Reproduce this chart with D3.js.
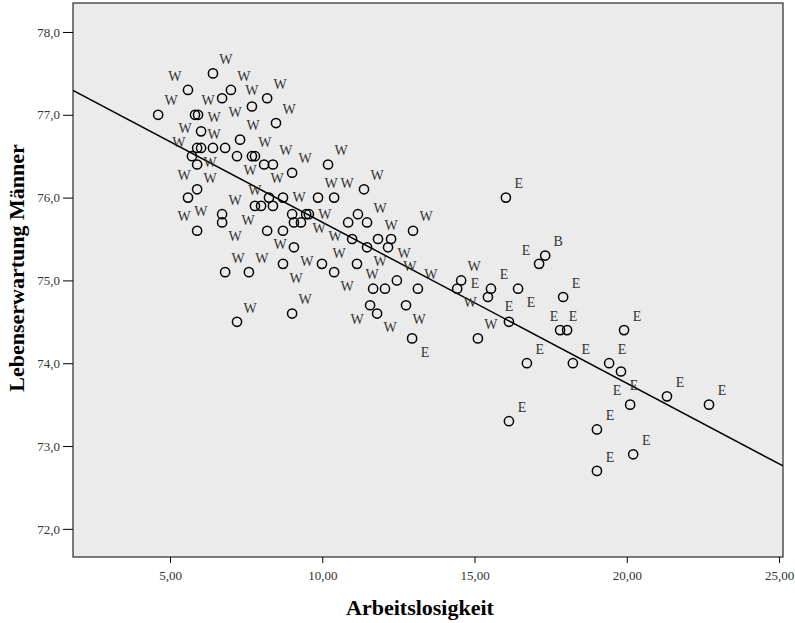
<!DOCTYPE html>
<html>
<head>
<meta charset="utf-8">
<script src="https://cdn.jsdelivr.net/npm/d3@7"></script>
<style>
  body { margin: 0; background: #fff; }
  text { font-family: "Liberation Serif", "Times New Roman", serif; }
</style>
</head>
<body>
<div id="chart"></div>
<script>
// waarden
const arbeitslosigkeit = [
  4.61, 5.59, 6.41, 7.00, 6.71, 7.69, 8.19, 5.82, 5.92, 6.02,
  7.30, 5.89, 6.02, 6.41, 6.81, 5.72, 7.20, 7.69, 7.79, 5.89,
  8.09, 5.89, 5.59, 6.71, 6.71, 5.89, 7.79, 7.99, 8.25, 8.19,
  6.81, 7.59, 7.20, 8.48, 8.38, 9.01, 10.19, 11.37, 8.71, 8.38,
  9.86, 10.39, 9.01, 9.47, 9.56, 9.07, 9.30, 11.17, 10.85, 11.47,
  8.71, 10.98, 11.47, 9.07, 11.83, 8.71, 9.99, 10.39, 11.14, 9.01,
  11.67, 11.57, 11.80, 12.98, 12.26, 12.16, 12.45, 14.56, 12.06, 13.14,
  14.43, 12.75, 12.95, 15.11, 15.44, 16.03, 17.32, 17.12, 15.54, 16.43,
  17.91, 16.13, 17.81, 18.04, 16.72, 18.23, 19.91, 19.42, 19.81, 20.11,
  21.32, 19.02, 20.21, 19.02, 22.70, 16.13
];
const lebenserwartung = [
  77.0, 77.3, 77.5, 77.3, 77.2, 77.1, 77.2, 77.0, 77.0, 76.8,
  76.7, 76.6, 76.6, 76.6, 76.6, 76.5, 76.5, 76.5, 76.5, 76.4,
  76.4, 76.1, 76.0, 75.8, 75.7, 75.6, 75.9, 75.9, 76.0, 75.6,
  75.1, 75.1, 74.5, 76.9, 76.4, 76.3, 76.4, 76.1, 76.0, 75.9,
  76.0, 76.0, 75.8, 75.8, 75.8, 75.7, 75.7, 75.8, 75.7, 75.7,
  75.6, 75.5, 75.4, 75.4, 75.5, 75.2, 75.2, 75.1, 75.2, 74.6,
  74.9, 74.7, 74.6, 75.6, 75.5, 75.4, 75.0, 75.0, 74.9, 74.9,
  74.9, 74.7, 74.3, 74.3, 74.8, 76.0, 75.3, 75.2, 74.9, 74.9,
  74.8, 74.5, 74.4, 74.4, 74.0, 74.0, 74.4, 74.0, 73.9, 73.5,
  73.6, 73.2, 72.9, 72.7, 73.5, 73.3
];
const region = [
  "W", "W", "W", "W", "W", "W", "W", "W", "W", "W",
  "W", "W", "W", "W", "W", "W", "W", "W", "W", "W",
  "W", "W", "W", "W", "W", "W", "W", "W", "W", "W",
  "W", "W", "W", "W", "W", "W", "W", "W", "W", "W",
  "W", "W", "W", "W", "W", "W", "W", "W", "W", "W",
  "W", "W", "W", "W", "W", "W", "W", "W", "W", "W",
  "W", "W", "W", "W", "W", "W", "W", "W", "W", "W",
  "W", "W", "E", "W", "E", "E", "B", "E", "E", "E",
  "E", "E", "E", "E", "E", "E", "E", "E", "E", "E",
  "E", "E", "E", "E", "E", "E"
];
const xTicks = [5, 10, 15, 20, 25];
const yTicks = [72, 73, 74, 75, 76, 77, 78];
const xTitel = "Arbeitslosigkeit";
const yTitel = "Lebenserwartung Männer";

const width = 795;
const height = 623;
const margin = {top: 3, right: 12, bottom: 66, left: 73};
const w = width - margin.left - margin.right;
const h = height - margin.top - margin.bottom;

// komma als decimaalteken
const locale = d3.formatLocale({decimal: ",", thousands: ".", grouping: [3], currency: ["", " €"]});

const data = arbeitslosigkeit.map(function(d, i) {
  return {x: d, y: lebenserwartung[i], label: region[i]};
});

const svg = d3.select("#chart")
  .append("svg")
    .attr("width", width)
    .attr("height", height);

const g = svg.append("g")
    .attr("transform", "translate(" + margin.left + "," + margin.top + ")");

const xScale = d3.scaleLinear()
    .domain([1.814, 25.13])
    .range([0, w]);

const yScale = d3.scaleLinear()
    .domain([71.66, 78.35])
    .range([h, 0]);

g.append("defs").append("clipPath")
    .attr("id", "clip")
  .append("rect")
    .attr("width", w)
    .attr("height", h);

// achtergrond van het plotvlak
g.append("rect")
    .attr("width", w)
    .attr("height", h)
    .attr("fill", "#ebebeb");

// assen
const xAxis = g.append("g")
    .attr("transform", "translate(0," + h + ")")
    .call(d3.axisBottom(xScale)
      .tickValues(xTicks)
      .tickSize(6)
      .tickSizeOuter(0)
      .tickFormat(locale.format(".2f")));

const yAxis = g.append("g")
    .call(d3.axisLeft(yScale)
      .tickValues(yTicks)
      .tickSize(10)
      .tickSizeOuter(0)
      .tickFormat(locale.format(".1f")));

[xAxis, yAxis].forEach(function(ax) {
  ax.select(".domain").remove();
  ax.selectAll("line").attr("stroke", "#000");
  ax.selectAll("text")
    .attr("fill", "#333")
    .style("font-size", "13px")
    .style("font-family", "'Liberation Serif', serif");
});
xAxis.selectAll("text").attr("dy", "1.1em");
yAxis.selectAll("text").attr("x", -13);

// regressielijn (kleinste kwadraten)
const mx = d3.mean(data, function(d) { return d.x; });
const my = d3.mean(data, function(d) { return d.y; });
const sxy = d3.sum(data, function(d) { return (d.x - mx) * (d.y - my); });
const sxx = d3.sum(data, function(d) { return (d.x - mx) * (d.x - mx); });
const slope = sxy / sxx;
const intercept = my - slope * mx;
const xd = xScale.domain();

g.append("line")
    .attr("clip-path", "url(#clip)")
    .attr("x1", xScale(xd[0]))
    .attr("y1", yScale(intercept + slope * xd[0]))
    .attr("x2", xScale(xd[1]))
    .attr("y2", yScale(intercept + slope * xd[1]))
    .attr("stroke", "#000")
    .attr("stroke-width", 1.5);

// punten
g.append("g")
  .selectAll("circle")
    .data(data)
    .enter()
    .append("circle")
    .attr("cx", function(d) { return xScale(d.x); })
    .attr("cy", function(d) { return yScale(d.y); })
    .attr("r", 4.6)
    .attr("fill", "none")
    .attr("stroke", "#000")
    .attr("stroke-width", 1.5);

// labels plaatsen: eerst rechtsboven, anders een vrije plek zoeken
const kandidaten = [[13, -14], [-13, -14], [0, -16], [13, 14], [-13, 14], [16, 0], [-16, 0]];
const geplaatst = [];
const punten = data.map(function(d) { return [xScale(d.x), yScale(d.y)]; });

function overlapt(b) {
  for (let i = 0; i < geplaatst.length; i++) {
    const o = geplaatst[i];
    if (b.x0 < o.x1 && b.x1 > o.x0 && b.y0 < o.y1 && b.y1 > o.y0) return true;
  }
  for (let i = 0; i < punten.length; i++) {
    const p = punten[i];
    if (p[0] + 4.5 > b.x0 && p[0] - 4.5 < b.x1 && p[1] + 4.5 > b.y0 && p[1] - 4.5 < b.y1) return true;
  }
  return false;
}

data.forEach(function(d, i) {
  const px = punten[i][0], py = punten[i][1];
  for (let k = 0; k < kandidaten.length; k++) {
    const cx = px + kandidaten[k][0], cy = py + kandidaten[k][1];
    const box = {x0: cx - 8, x1: cx + 8, y0: cy - 6.5, y1: cy + 6.5};
    if (!overlapt(box)) {
      geplaatst.push(box);
      g.append("text")
        .attr("x", cx)
        .attr("y", cy + 4.7)
        .attr("text-anchor", "middle")
        .attr("fill", "#333")
        .style("font-size", "14px")
        .text(d.label);
      break;
    }
  }
});

// rand van het plotvlak
g.append("rect")
    .attr("width", w)
    .attr("height", h)
    .attr("fill", "none")
    .attr("stroke", "#000")
    .attr("stroke-width", 1);

// astitels
svg.append("text")
    .attr("x", margin.left + w / 2 - 8)
    .attr("y", height - 8)
    .attr("text-anchor", "middle")
    .style("font-size", "22px")
    .style("font-weight", "bold")
    .text(xTitel);

svg.append("text")
    .attr("transform", "translate(24,268) rotate(-90)")
    .attr("text-anchor", "middle")
    .style("font-size", "22px")
    .style("font-weight", "bold")
    .text(yTitel);
</script>
</body>
</html>
